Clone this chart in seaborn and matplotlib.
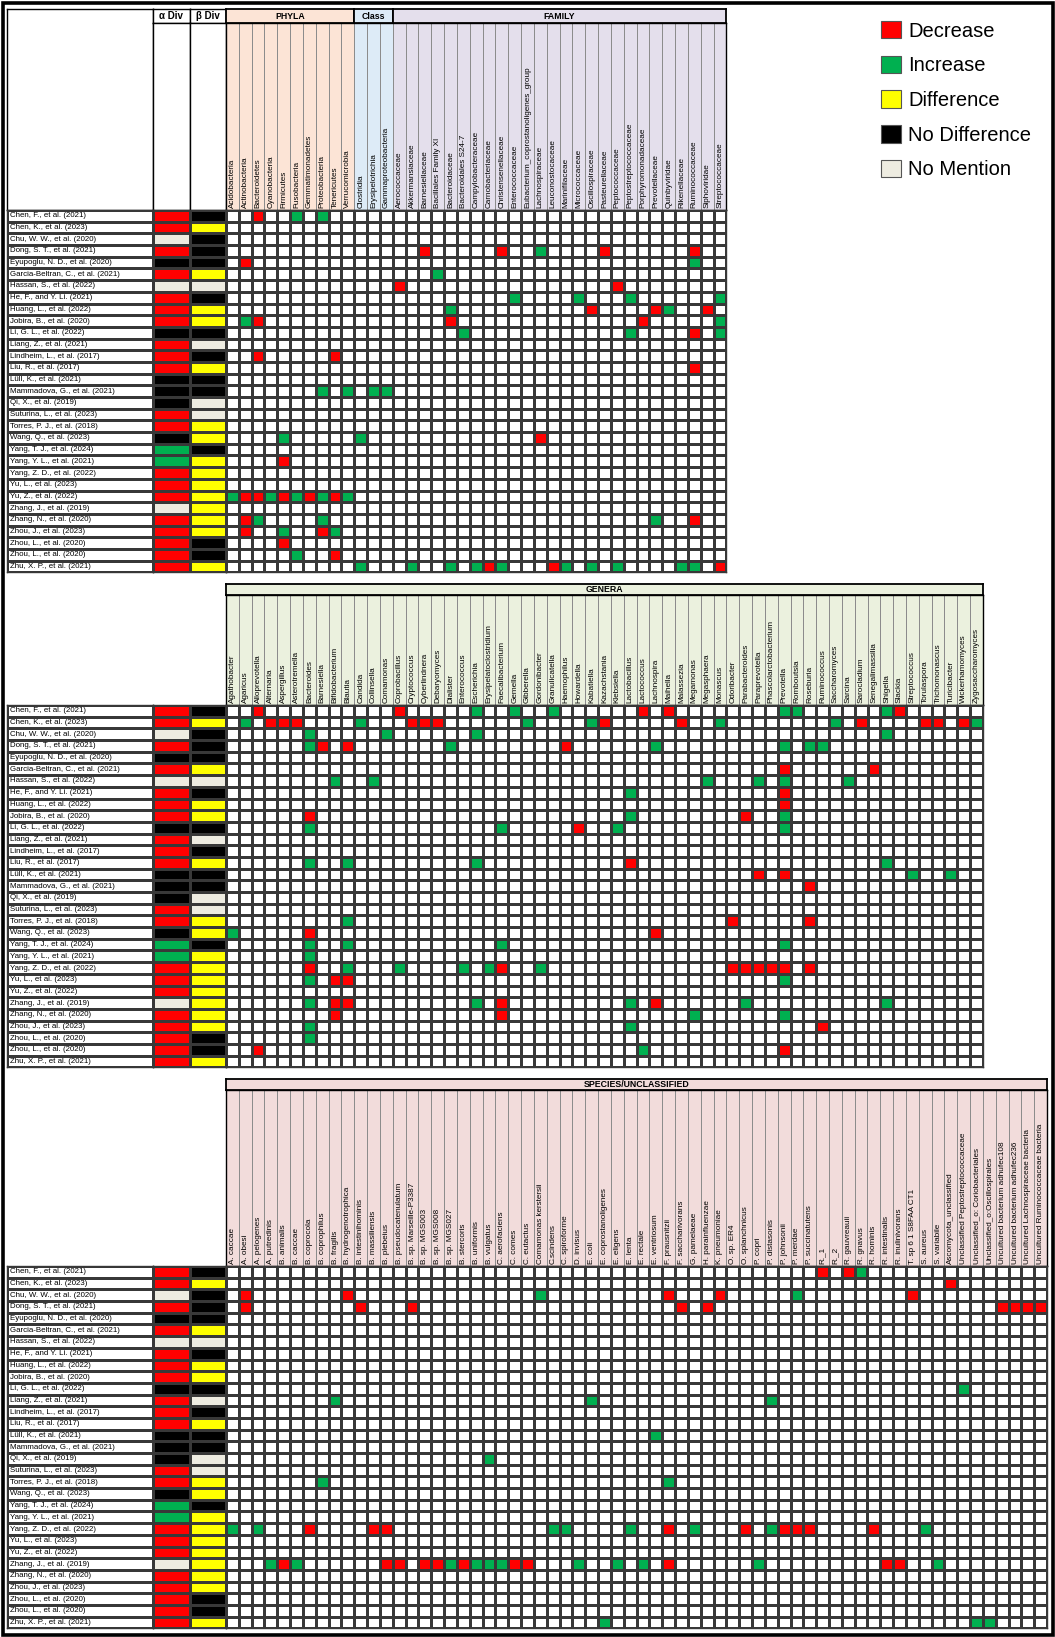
import numpy as np
import pandas as pd
import matplotlib
matplotlib.use("Agg")
import matplotlib.pyplot as plt
import seaborn as sns
from matplotlib.colors import ListedColormap
from matplotlib.patches import Patch, Rectangle

plt.rcParams['font.family'] = ['Liberation Sans', 'DejaVu Sans']

# ---------------- data ----------------
studies = [
    "Chen, F., et al. (2021)", "Chen, K., et al. (2023)", "Chu, W. W., et al. (2020)",
    "Dong, S. T., et al. (2021)", "Eyupoglu, N. D., et al. (2020)",
    "Garcia-Beltran, C., et al. (2021)", "Hassan, S., et al. (2022)",
    "He, F., and Y. Li. (2021)", "Huang, L., et al. (2022)", "Jobira, B., et al. (2020)",
    "Li, G. L., et al. (2022)", "Liang, Z., et al. (2021)", "Lindheim, L., et al. (2017)",
    "Liu, R., et al. (2017)", "Lüll, K., et al. (2021)", "Mammadova, G., et al. (2021)",
    "Qi, X., et al. (2019)", "Suturina, L., et al. (2023)", "Torres, P. J., et al. (2018)",
    "Wang, Q., et al. (2023)", "Yang, T. J., et al. (2024)", "Yang, Y. L., et al. (2021)",
    "Yang, Z. D., et al. (2022)", "Yu, L., et al. (2023)", "Yu, Z., et al. (2022)",
    "Zhang, J., et al. (2019)", "Zhang, N., et al. (2020)", "Zhou, J., et al. (2023)",
    "Zhou, L., et al. (2020)", "Zhou, L., et al. (2020)", "Zhu, X. P., et al. (2021)",
]

alpha_div = ["Decrease", "Decrease", "No Mention", "Decrease", "No Difference",
             "Decrease", "No Mention", "Decrease", "Decrease", "Decrease",
             "No Difference", "Decrease", "Decrease", "Decrease", "No Difference",
             "No Difference", "No Difference", "Decrease", "Decrease", "No Difference",
             "Increase", "Increase", "Decrease", "Decrease", "Decrease",
             "No Mention", "Decrease", "Decrease", "Decrease", "Decrease", "Decrease"]
beta_div = ["No Difference", "Difference", "No Difference", "No Difference", "No Difference",
            "Difference", "No Mention", "No Difference", "Difference", "Difference",
            "No Difference", "No Mention", "No Difference", "Difference", "No Difference",
            "No Difference", "No Mention", "No Mention", "Difference", "Difference",
            "No Difference", "Difference", "Difference", "Difference", "Difference",
            "Difference", "Difference", "Difference", "No Difference", "No Difference",
            "Difference"]

phyla = ["Acidobacteria", "Actinobacteria", "Bacteroidetes", "Cyanobacteria", "Firmicutes",
         "Fusobacteria", "Gemmatimonadetes", "Proteobacteria", "Tenericutes", "Verrucomicrobia"]
classes = ["Clostridia", "Erysipelotrichia", "Gammaproteobacteria"]
families = ["Aerococcaceae", "Akkermansiaceae", "Barnesiellaceae", "Bacillales Family XI",
            "Bacteroidaceae", "Bacteroidales S24-7", "Campylobacteraceae", "Carnobacteriaceae",
            "Christensenellaceae", "Enterococcaceae", "Eubacterium_coprostanoligenes_group",
            "Lachnospiraceae", "Leuconostocaceae", "Marinifilaceae", "Micrococcaceae",
            "Oscillospiraceae", "Pasteurellaceae", "Peptococcaceae", "Peptostreptococcaceae",
            "Porphyromonadaceae", "Prevotellaceae", "Quinbyviridae", "Rikenellaceae",
            "Ruminococcaceae", "Siphoviridae", "Streptococcaceae"]
genera = ["Agathobacter", "Agaricus", "Alloprevotella", "Alternaria", "Aspergillus",
          "Asterotremella", "Bacteroides", "Barnesiella", "Bifidobacterium", "Blautia",
          "Candida", "Collinsella", "Comamonas", "Coprobacillus", "Cryptococcus",
          "Cyberlindnera", "Debaryomyces", "Dialister", "Enterococcus", "Escherichia",
          "Erysipelatoclostridium", "Faecalibacterium", "Gemella", "Gibberella",
          "Gordonibacter", "Granulicatella", "Haemophilus", "Howardella", "Kabatiella",
          "Kazachstania", "Klebsiella", "Lactobacillus", "Lactococcus", "Lachnospira",
          "Maihella", "Malassezia", "Megamonas", "Megasphaera", "Monascus", "Odoribacter",
          "Parabacteroides", "Paraprevotella", "Phascolarctobacterium", "Prevotella",
          "Romboutsia", "Roseburia", "Ruminococcus", "Saccharomyces", "Sarcina",
          "Sarocladium", "Senegalimassilia", "Shigella", "Slackia", "Streptococcus",
          "Torulaspora", "Trichomonascus", "Turicibacter", "Wickerhamomyces",
          "Zygosaccharomyces"]
species = ["A. caccae", "A. obesi", "A. pelogenes", "A. putredinis", "B. animalis",
           "B. caccae", "B. coprocola", "B. coprophilus", "B. fragilis",
           "B. hydrogenotrophica", "B. intestinihominis", "B. massiliensis", "B. plebeius",
           "B. pseudocatenulatum", "B. sp. Marseille-P3387", "B. sp. MGS003",
           "B. sp. MGS008", "B. sp. MGS027", "B. stercoris", "B. uniformis", "B. vulgatus",
           "C. aerofaciens", "C. comes", "C. eutactus", "Comamonas kerstersii", "C.scindens",
           "C. spiroforme", "D. invisus", "E. coli", "E. coprostanoligenes", "E. eligens",
           "E. lenta", "E. rectale", "E. ventriosum", "F. prausnitzii", "F. saccharivorans",
           "G. pamelaeae", "H. parainfluenzae", "K. pneumoniae", "O. sp. ER4",
           "O. splanchnicus", "P. copri", "P. distasonis", "P. johnsonii", "P. merdae",
           "P. succinatutens", "R._1", "R._2", "R. gauvreauii", "R. gnavus", "R. hominis",
           "R. intestinalis", "R. inulinivorans", "T. sp 6 1 S8FAA CT1", "S. aureus",
           "S. variabile", "Ascomycota_unclassified", "Unclassified Peptostreptococcaceae",
           "Unclassified_o: Coriobacteriales", "Unclassified_o:Oscillospirales",
           "Uncultured bacterium adhufec108", "Uncultured bacterium adhufec236",
           "Uncultured Lachnospiraceae bacteria", "Uncultured Ruminococcaceae bacteria"]

# row index (study) -> taxa reported as decreased / increased
top_dec = {
    0: ["Bacteroidetes"],
    3: ["Barnesiellaceae", "Christensenellaceae", "Pasteurellaceae", "Ruminococcaceae"],
    4: ["Actinobacteria"],
    6: ["Aerococcaceae", "Peptococcaceae"],
    8: ["Oscillospiraceae", "Prevotellaceae", "Siphoviridae"],
    9: ["Bacteroidetes", "Bacteroidaceae", "Porphyromonadaceae"],
    10: ["Ruminococcaceae"],
    12: ["Bacteroidetes", "Tenericutes"],
    13: ["Ruminococcaceae"],
    19: ["Lachnospiraceae"],
    21: ["Firmicutes"],
    24: ["Actinobacteria", "Bacteroidetes", "Firmicutes", "Gemmatimonadetes", "Tenericutes"],
    26: ["Actinobacteria", "Ruminococcaceae"],
    27: ["Actinobacteria", "Proteobacteria"],
    28: ["Firmicutes"],
    29: ["Tenericutes"],
    30: ["Carnobacteriaceae", "Leuconostocaceae", "Streptococcaceae"],
}
top_inc = {
    0: ["Fusobacteria", "Proteobacteria"],
    3: ["Lachnospiraceae"],
    4: ["Ruminococcaceae"],
    5: ["Bacillales Family XI"],
    7: ["Enterococcaceae", "Micrococcaceae", "Peptostreptococcaceae", "Streptococcaceae"],
    8: ["Bacteroidaceae", "Quinbyviridae"],
    9: ["Actinobacteria", "Streptococcaceae"],
    10: ["Bacteroidales S24-7", "Peptostreptococcaceae", "Streptococcaceae"],
    15: ["Proteobacteria", "Verrucomicrobia", "Erysipelotrichia", "Gammaproteobacteria"],
    19: ["Firmicutes", "Clostridia"],
    24: ["Acidobacteria", "Cyanobacteria", "Fusobacteria", "Proteobacteria", "Verrucomicrobia"],
    26: ["Bacteroidetes", "Proteobacteria", "Prevotellaceae"],
    27: ["Firmicutes", "Tenericutes"],
    29: ["Fusobacteria"],
    30: ["Clostridia", "Akkermansiaceae", "Bacteroidaceae", "Campylobacteraceae",
         "Christensenellaceae", "Marinifilaceae", "Oscillospiraceae", "Peptococcaceae",
         "Rikenellaceae", "Ruminococcaceae"],
}
gen_dec = {
    0: ["Alloprevotella", "Coprobacillus", "Lactococcus", "Maihella", "Slackia"],
    1: ["Alternaria", "Aspergillus", "Asterotremella", "Cryptococcus", "Cyberlindnera",
        "Debaryomyces", "Kazachstania", "Malassezia", "Sarocladium", "Torulaspora",
        "Trichomonascus", "Wickerhamomyces"],
    3: ["Barnesiella", "Blautia", "Haemophilus"],
    5: ["Prevotella", "Senegalimassilia"],
    7: ["Prevotella"],
    8: ["Prevotella"],
    9: ["Bacteroides", "Parabacteroides"],
    10: ["Howardella"],
    13: ["Lactobacillus"],
    14: ["Paraprevotella", "Prevotella"],
    15: ["Roseburia"],
    18: ["Odoribacter", "Roseburia"],
    19: ["Bacteroides", "Lachnospira"],
    22: ["Bacteroides", "Faecalibacterium", "Odoribacter", "Parabacteroides",
         "Paraprevotella", "Phascolarctobacterium", "Prevotella", "Roseburia"],
    23: ["Bifidobacterium", "Blautia"],
    25: ["Bifidobacterium", "Blautia", "Faecalibacterium", "Lachnospira"],
    26: ["Bifidobacterium", "Faecalibacterium"],
    27: ["Ruminococcus"],
    29: ["Alloprevotella", "Prevotella"],
}
gen_inc = {
    0: ["Escherichia", "Gemella", "Granulicatella", "Prevotella", "Romboutsia", "Shigella"],
    1: ["Agaricus", "Candida", "Gibberella", "Kabatiella", "Monascus", "Saccharomyces",
        "Zygosaccharomyces"],
    2: ["Bacteroides", "Comamonas", "Escherichia", "Shigella"],
    3: ["Bacteroides", "Dialister", "Lachnospira", "Prevotella", "Roseburia", "Ruminococcus"],
    6: ["Bifidobacterium", "Collinsella", "Megasphaera", "Paraprevotella", "Prevotella",
        "Sarcina"],
    7: ["Lactobacillus"],
    9: ["Lactobacillus", "Prevotella"],
    10: ["Bacteroides", "Faecalibacterium", "Klebsiella", "Prevotella"],
    13: ["Bacteroides", "Blautia", "Escherichia", "Shigella"],
    14: ["Streptococcus", "Turicibacter"],
    18: ["Blautia"],
    19: ["Agathobacter"],
    20: ["Bacteroides", "Blautia", "Faecalibacterium", "Prevotella"],
    21: ["Bacteroides"],
    22: ["Blautia", "Coprobacillus", "Enterococcus", "Erysipelatoclostridium", "Gordonibacter"],
    23: ["Bacteroides", "Prevotella"],
    25: ["Bacteroides", "Escherichia", "Lactobacillus", "Parabacteroides", "Shigella"],
    26: ["Megamonas", "Prevotella"],
    27: ["Bacteroides", "Lactobacillus"],
    28: ["Bacteroides"],
    29: ["Lactococcus"],
}
spp_dec = {
    0: ["R._1", "R. gauvreauii"],
    1: ["Ascomycota_unclassified"],
    2: ["A. obesi", "B. hydrogenotrophica", "F. prausnitzii", "K. pneumoniae",
        "T. sp 6 1 S8FAA CT1"],
    3: ["A. obesi", "B. intestinihominis", "B. sp. Marseille-P3387", "F. saccharivorans",
        "H. parainfluenzae", "Uncultured bacterium adhufec108",
        "Uncultured bacterium adhufec236", "Uncultured Lachnospiraceae bacteria",
        "Uncultured Ruminococcaceae bacteria"],
    22: ["B. coprocola", "B. massiliensis", "B. plebeius", "F. prausnitzii",
         "O. splanchnicus", "P. johnsonii", "P. merdae", "P. succinatutens", "R. hominis"],
    25: ["B. animalis", "B. plebeius", "B. pseudocatenulatum", "B. sp. MGS003",
         "B. sp. MGS008", "B. stercoris", "C. comes", "C. eutactus", "F. prausnitzii",
         "R. intestinalis", "R. inulinivorans"],
}
spp_inc = {
    0: ["R. gnavus"],
    2: ["Comamonas kerstersii", "P. merdae"],
    10: ["Unclassified Peptostreptococcaceae"],
    11: ["B. fragilis", "E. coli", "P. distasonis"],
    14: ["E. ventriosum"],
    16: ["B. vulgatus"],
    18: ["B. coprophilus", "F. prausnitzii"],
    22: ["A. caccae", "A. pelogenes", "C.scindens", "C. spiroforme", "E. lenta",
         "G. pamelaeae", "P. distasonis", "S. aureus"],
    25: ["A. putredinis", "B. caccae", "B. sp. MGS027", "B. uniformis", "B. vulgatus",
         "C. aerofaciens", "D. invisus", "E. eligens", "E. rectale", "P. copri",
         "S. variabile"],
    30: ["E. coprostanoligenes", "Unclassified_o: Coriobacteriales",
         "Unclassified_o:Oscillospirales"],
}

status_names = ["", "Decrease", "Increase", "Difference", "No Difference", "No Mention"]
status_colors = ["#FFFFFF", "#FF0000", "#00B050", "#FFFF00", "#000000", "#EEECE1"]
status_cmap = ListedColormap(status_colors)


def build_matrix(cols, dec, inc):
    m = pd.DataFrame(0, index=range(len(studies)), columns=cols)
    for r, taxa in dec.items():
        m.loc[r, taxa] = status_names.index("Decrease")
    for r, taxa in inc.items():
        m.loc[r, taxa] = status_names.index("Increase")
    return m


div_df = pd.DataFrame({"a": [status_names.index(s) for s in alpha_div],
                       "b": [status_names.index(s) for s in beta_div]})

# ---------------- layout ----------------
W, H = 1055, 1637
CW, RH = 12.83, 11.69
NAME_X0, NAME_X1, DIV_X1, GRID_X0 = 7, 153, 226, 226
LINE = "#383838"

fig = plt.figure(figsize=(W / 100, H / 100), dpi=100)


def px_axes(x0, y0, x1, y1):
    return fig.add_axes([x0 / W, 1 - y1 / H, (x1 - x0) / W, (y1 - y0) / H])


def frame(ax, color=LINE, lw=1.0):
    for s in ax.spines.values():
        s.set_visible(True)
        s.set_color(color)
        s.set_linewidth(lw)


def box(x0, y0, x1, y1, text="", color="white", size=6.3, lw=1.0):
    ax = px_axes(x0, y0, x1, y1)
    ax.set_facecolor(color)
    ax.set_xticks([])
    ax.set_yticks([])
    frame(ax, "black", lw)
    if text:
        ax.text(0.5, 0.5, text, ha="center", va="center", fontsize=size,
                fontweight="bold", transform=ax.transAxes)
    return ax


def draw_section(df, groups, band_top, label_top, row_top):
    n = df.shape[1]
    x1 = GRID_X0 + n * CW
    y1 = row_top + len(studies) * RH

    # coloured column-label background
    lab_ax = px_axes(GRID_X0, label_top, x1, row_top)
    codes = []
    for gi, (_, cols, _) in enumerate(groups):
        codes += [gi] * len(cols)
    sns.heatmap(np.array([codes]), ax=lab_ax, cmap=ListedColormap([g[2] for g in groups]),
                vmin=-0.5, vmax=len(groups) - 0.5, cbar=False, linewidths=0.55,
                linecolor="#8c8c8c", xticklabels=False, yticklabels=False)
    frame(lab_ax, "black", 1.0)

    # group bands
    start = 0
    for name, cols, color in groups:
        box(GRID_X0 + start * CW, band_top, GRID_X0 + (start + len(cols)) * CW, label_top,
            name, color, 6.3, 1.3)
        start += len(cols)

    # main grid
    gax = px_axes(GRID_X0, row_top, x1, y1)
    sns.heatmap(df, ax=gax, cmap=status_cmap, vmin=-0.5, vmax=5.5, cbar=False,
                linewidths=0.95, linecolor=LINE, xticklabels=list(df.columns),
                yticklabels=False)
    gax.xaxis.tick_top()
    gax.tick_params(axis="x", length=0, pad=1.5, labelsize=5.9, labelrotation=90)
    plt.setp(gax.get_xticklabels(), va="bottom", ha="center")
    gax.set_xlabel("")
    gax.set_ylabel("")
    frame(gax)

    # study names
    nax = px_axes(NAME_X0, row_top, NAME_X1, y1)
    sns.heatmap(np.zeros((len(studies), 1)), ax=nax, cmap=ListedColormap(["white"]),
                cbar=False, linewidths=0.95, linecolor=LINE, xticklabels=False,
                yticklabels=studies)
    nax.tick_params(axis="y", length=0, pad=-1.8, labelsize=5.7, labelrotation=0)
    plt.setp(nax.get_yticklabels(), ha="left")
    frame(nax)

    # alpha / beta diversity
    dax = px_axes(NAME_X1, row_top, DIV_X1, y1)
    sns.heatmap(div_df, ax=dax, cmap=status_cmap, vmin=-0.5, vmax=5.5, cbar=False,
                linewidths=0.95, linecolor=LINE, xticklabels=False, yticklabels=False)
    frame(dax)


# background frame
bg = fig.add_axes([0, 0, 1, 1], zorder=-10)
bg.set_xlim(0, W)
bg.set_ylim(H, 0)
bg.axis("off")
bg.add_patch(Rectangle((2.5, 2.5), W - 5, H - 5, fill=False, lw=2.6, ec="black"))

# section 1 left headers
box(NAME_X0, 9, NAME_X1, 210)
box(NAME_X1, 9, 189.5, 23.2, "α Div", size=7)
box(189.5, 9, DIV_X1, 23.2, "β Div", size=7)
box(NAME_X1, 23.2, 189.5, 210)
box(189.5, 23.2, DIV_X1, 210)

top_cols = phyla + classes + families
draw_section(build_matrix(top_cols, top_dec, top_inc),
             [("PHYLA", phyla, "#FCE4D6"), ("Class", classes, "#DDEBF7"),
              ("FAMILY", families, "#E4DFEC")],
             9, 23.2, 210)
draw_section(build_matrix(genera, gen_dec, gen_inc),
             [("GENERA", genera, "#EBF1DE")], 584.3, 595.2, 705)
draw_section(build_matrix(species, spp_dec, spp_inc),
             [("SPECIES/UNCLASSIFIED", species, "#F2DCDB")], 1078.6, 1090, 1266)

# legend
handles = [Patch(facecolor=c, edgecolor="#555555", linewidth=0.8) for c in status_colors[1:]]
fig.legend(handles, status_names[1:], loc="upper left", bbox_to_anchor=(881 / W, 1 - 21 / H),
           frameon=False, fontsize=14.5, handlelength=1.0, handleheight=0.95,
           handletextpad=0.35, labelspacing=0.75, borderaxespad=0, borderpad=0)

fig.savefig("out.png", dpi=100)
